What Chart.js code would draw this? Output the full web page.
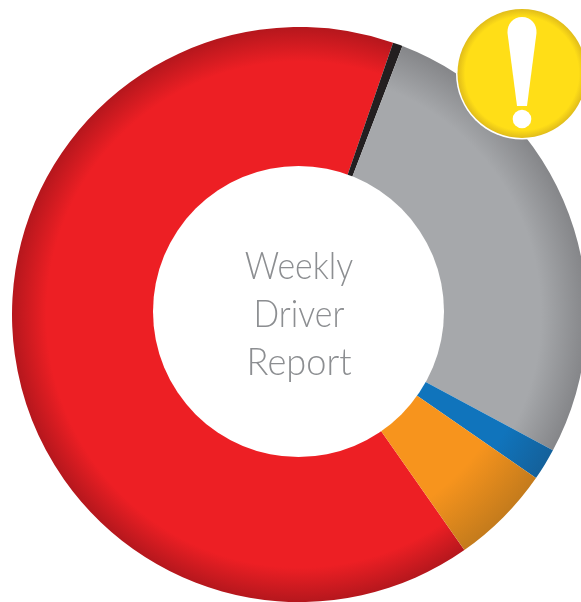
<!DOCTYPE html>
<html lang="en">
<head>
    <meta charset="UTF-8">
    <title>Weekly Driver Report</title>
    <script src="https://cdnjs.cloudflare.com/ajax/libs/Chart.js/4.4.1/chart.umd.min.js"></script>
    <style>
        html, body {
            margin: 0;
            width: 581px;
            height: 602px;
            overflow: hidden;
            background-color: #ffffff;
        }

        #reportChart {
            position: absolute;
            left: 12px;
            top: 27px;
        }

        .center-title {
            position: absolute;
            left: 199px;
            top: 240px;
            width: 200px;
            text-align: center;
            font-family: Lato, sans-serif;
            font-weight: 300;
            font-size: 38px;
            line-height: 48px;
            color: #8c8e91;
            transform: scaleX(0.89);
        }

        .center-title .wide {
            display: inline-block;
            transform: scaleX(1.07);
        }

        .badge {
            position: absolute;
            left: 455px;
            top: 5px;
        }
    </style>
</head>
<body>
    <canvas id="reportChart" width="575" height="575"></canvas>
    <div class="center-title">Weekly<br>Driver<br><span class="wide">Report</span></div>

    <svg class="badge" width="126" height="136" viewBox="455 5 126 136">
        <defs>
            <radialGradient id="badgeFill" cx="522" cy="73.5" r="64.5" gradientUnits="userSpaceOnUse">
                <stop offset="0.88" stop-color="#ffde17"></stop>
                <stop offset="1" stop-color="#e0bc1a"></stop>
            </radialGradient>
        </defs>
        <circle cx="522" cy="73.5" r="66" fill="#ffffff"></circle>
        <circle cx="522" cy="73.5" r="64.5" fill="url(#badgeFill)"></circle>
        <path d="M522 17 C531 17 537 24 536.5 33 L527 106 L517 106 L507.5 33 C507 24 513 17 522 17 Z" fill="#ffffff"></path>
        <circle cx="522" cy="119" r="9.3" fill="#ffffff"></circle>
    </svg>

    <script>
        const categories = ['Red', 'Black', 'Grey', 'Blue', 'Orange'];
        const shares = [65, 0.55, 27, 1.8, 5.65];
        const baseColors = ['#ed1f24', '#231f20', '#a6a8ab', '#1074bc', '#f7941d'];
        const edgeColors = ['#b5171d', '#231f20', '#858689', '#14619b', '#c47b1c'];
        // radius fraction where the edge shading begins, per slice
        const shadeStart = [0.88, 0.88, 0.84, 0.82, 0.78];

        function sliceFill(context) {
            const chart = context.chart;
            const area = chart.chartArea;
            const i = context.dataIndex;
            if (!area) return baseColors[i];
            const cx = (area.left + area.right) / 2;
            const cy = (area.top + area.bottom) / 2;
            const r = Math.min(area.right - area.left, area.bottom - area.top) / 2;
            const grad = chart.ctx.createRadialGradient(cx, cy, 0, cx, cy, r);
            grad.addColorStop(0, baseColors[i]);
            grad.addColorStop(shadeStart[i], baseColors[i]);
            grad.addColorStop(1, edgeColors[i]);
            return grad;
        }

        // the hole in the original sits slightly above the ring's centre
        const holePlugin = {
            id: 'hole',
            afterDatasetsDraw(chart) {
                const ctx = chart.ctx;
                ctx.save();
                ctx.fillStyle = '#ffffff';
                ctx.beginPath();
                ctx.arc(286.5, 284.5, 145.5, 0, Math.PI * 2);
                ctx.fill();
                ctx.restore();
            }
        };

        new Chart(document.getElementById('reportChart'), {
            type: 'doughnut',
            data: {
                labels: categories,
                datasets: [{
                    data: shares,
                    backgroundColor: sliceFill,
                    borderWidth: 0
                }]
            },
            options: {
                responsive: false,
                animation: false,
                rotation: 145,
                cutout: '45%',
                layout: { padding: 0 },
                plugins: {
                    legend: { display: false },
                    tooltip: { enabled: false }
                }
            },
            plugins: [holePlugin]
        });
    </script>
</body>
</html>
